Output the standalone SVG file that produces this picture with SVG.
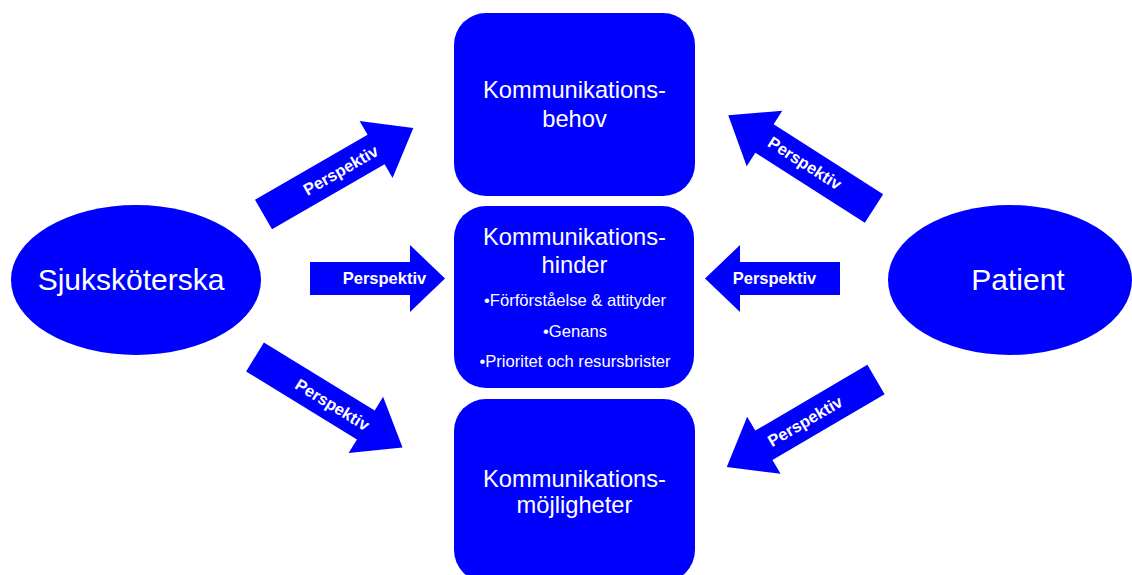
<svg xmlns="http://www.w3.org/2000/svg" width="1132" height="575" viewBox="0 0 1132 575">
<defs>
<style>
.shape{fill:#0000ff;}
.t{fill:#ffffff;font-family:"Liberation Sans",Arial,sans-serif;text-anchor:middle;}
.big{font-size:30px;}
.title{font-size:23.7px;}
.bul{font-size:16.6px;}
.lab{font-size:16.5px;font-weight:bold;}
</style>
<path id="diag" d="M0,-17 L130,-17 L130,-33 L173,0 L130,33 L130,17 L0,17 Z"/>
</defs>
<rect width="1132" height="575" fill="#ffffff"/>
<g id="connectors">
<g id="arrow-ul" transform="translate(263.5,214.5) rotate(-30)">
<use href="#diag" class="shape"/>
<text class="t lab" x="89" y="6">Perspektiv</text>
</g>
<g id="arrow-ml">
<path class="shape" d="M310,262 L410,262 L410,245 L445,278.5 L410,312 L410,295 L310,295 Z"/>
<text class="t lab" x="384.5" y="284">Perspektiv</text>
</g>
<g id="arrow-ll" transform="translate(255,357) rotate(31.5)">
<use href="#diag" class="shape"/>
<text class="t lab" x="91" y="6">Perspektiv</text>
</g>
<g id="arrow-ur">
<use href="#diag" class="shape" transform="translate(874,208.5) rotate(-147.4)"/>
<text class="t lab" transform="translate(805,163) rotate(32.6)" x="0" y="6">Perspektiv</text>
</g>
<g id="arrow-mr">
<path class="shape" d="M840,262 L740,262 L740,245 L705,278.5 L740,312 L740,295 L840,295 Z"/>
<text class="t lab" x="774.5" y="284">Perspektiv</text>
</g>
<g id="arrow-lr">
<use href="#diag" class="shape" transform="translate(876,379.5) rotate(149.6)"/>
<text class="t lab" transform="translate(805,421) rotate(-30.4)" x="0" y="6">Perspektiv</text>
</g>
</g>
<g id="node-sjukskoterska">
<ellipse class="shape" cx="136" cy="280" rx="125" ry="75"/>
<text class="t big" x="131" y="290">Sjuksköterska</text>
</g>
<g id="node-patient">
<ellipse class="shape" cx="1010" cy="280" rx="122" ry="75"/>
<text class="t big" x="1018" y="290">Patient</text>
</g>
<g id="node-behov">
<rect class="shape" x="454" y="13" width="241" height="183" rx="32" ry="32"/>
<text class="t title" x="574.5" y="98">Kommunikations-</text>
<text class="t title" x="574.5" y="127">behov</text>
</g>
<g id="node-hinder">
<rect class="shape" x="454" y="206" width="240" height="182" rx="32" ry="32"/>
<text class="t title" x="574.5" y="245">Kommunikations-</text>
<text class="t title" x="574.5" y="273">hinder</text>
<text class="t bul" x="575" y="306">•Förförståelse &amp; attityder</text>
<text class="t bul" x="575" y="337">•Genans</text>
<text class="t bul" x="575" y="367">•Prioritet och resursbrister</text>
</g>
<g id="node-mojligheter">
<rect class="shape" x="454" y="399" width="241" height="183" rx="32" ry="32"/>
<text class="t title" x="574.5" y="487">Kommunikations-</text>
<text class="t title" x="574.5" y="513">möjligheter</text>
</g>
</svg>
